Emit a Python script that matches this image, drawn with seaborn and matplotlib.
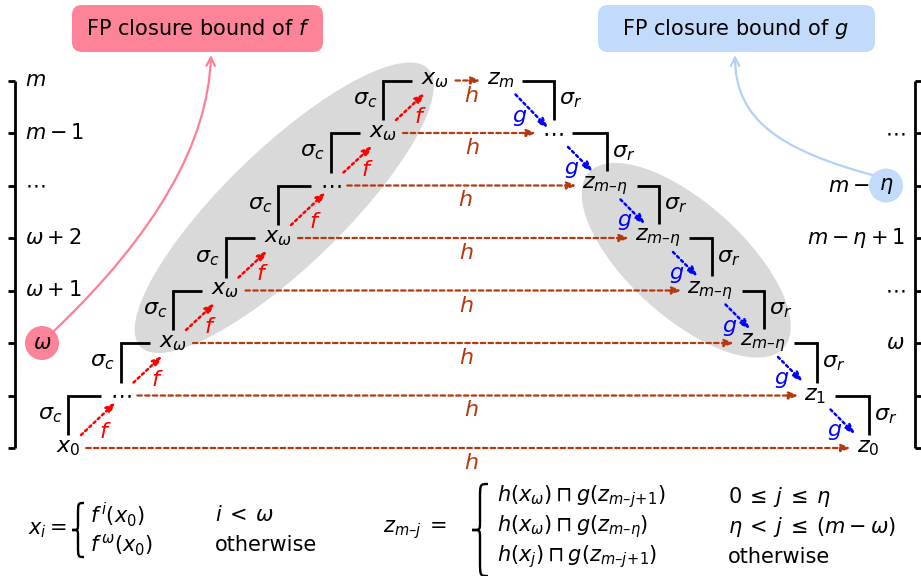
import matplotlib
matplotlib.use('Agg')

import matplotlib.pyplot as plt
from matplotlib.patches import Ellipse, FancyBboxPatch, FancyArrowPatch, Circle, PathPatch
from matplotlib.path import Path
import pandas as pd
import seaborn as sns

# lattice levels, bottom (0) to top (7)
levels = [0, 1, 2, 3, 4, 5, 6, 7]
DOTS = r"$\cdots$"

left_ticks = ["", "", r"$\omega$", r"$\omega+1$", r"$\omega+2$", DOTS, r"$m-1$", r"$m$"]
right_ticks = ["", "", r"$\omega$", DOTS, r"$m-\eta+1$", r"$m-$", DOTS, ""]
left_nodes = [r"$x_0$", DOTS, r"$x_\omega$", r"$x_\omega$", r"$x_\omega$", DOTS, r"$x_\omega$", r"$x_\omega$"]
right_nodes = [r"$z_0$", r"$z_1$", r"$z_{m–\eta}$", r"$z_{m–\eta}$", r"$z_{m–\eta}$",
               r"$z_{m–\eta}$", DOTS, r"$z_m$"]

f_level = 2   # omega: f reaches its fixpoint here
g_level = 5   # m - eta: g reaches its fixpoint here
left_group = [2, 3, 4, 5, 6, 7]
right_group = [2, 3, 4, 5]

x_cases = [(r"$f^{\,i}(x_0)$", r"$i\:<\:\omega$"),
           (r"$f^{\,\omega}(x_0)$", "otherwise")]
z_cases = [(r"$h(x_\omega) \sqcap g(z_{m–j\!+\!1})$", r"$0\:\leq\:j\:\leq\:\eta$"),
           (r"$h(x_\omega) \sqcap g(z_{m–\eta})$", r"$\eta\:<\:j\:\leq\:(m-\omega)$"),
           (r"$h(x_j) \sqcap g(z_{m–j\!+\!1})$", "otherwise")]

# colours
PINK = "#fd8398"
LIGHT_BLUE = "#c3dbfa"
GREY = "#d9d9d9"
H_COL = "#b5380e"
F_COL = "#ff0000"
G_COL = "#0000ff"

# layout (pixels, y downwards)
Y0, STEP = 448, 52.5
XL0, XR0 = 68, 868


def ly(k):
    return Y0 - STEP * k


def lx(k):
    return XL0 + STEP * k


def rx(k):
    return XR0 - STEP * k


sns.set_theme(style="white")
plt.rcParams['font.family'] = ['DejaVu Sans']
plt.rcParams['mathtext.fontset'] = 'dejavusans'
plt.rcParams['text.color'] = 'black'

fig = plt.figure(figsize=(9.21, 5.76), dpi=100)
ax = fig.add_axes([0, 0, 1, 1])

# grey groups (fixpoint regions)
lc = ((lx(left_group[0]) + lx(left_group[-1])) / 2 - 20, (ly(left_group[0]) + ly(left_group[-1])) / 2 - 4)
rc = ((rx(right_group[0]) + rx(right_group[-1])) / 2 + 2, (ly(right_group[0]) + ly(right_group[-1])) / 2 - 4)
ax.add_patch(Ellipse(lc, 400, 118, angle=-44, facecolor=GREY, lw=0, zorder=0))
ax.add_patch(Ellipse(rc, 262, 114, angle=42, facecolor=GREY, lw=0, zorder=0))

# node labels
L = [ax.text(lx(k), ly(k), left_nodes[k], ha='center', va='center', fontsize=16, zorder=3) for k in levels]
R = [ax.text(rx(k), ly(k), right_nodes[k], ha='center', va='center', fontsize=16, zorder=3) for k in levels]

ax.set_xlim(0, 921)
ax.set_ylim(576, 0)
ax.axis('off')

fig.canvas.draw()
renderer = fig.canvas.get_renderer()


def extent(t):
    bb = t.get_window_extent(renderer).transformed(ax.transData.inverted())
    return min(bb.x0, bb.x1), max(bb.x0, bb.x1), min(bb.y0, bb.y1), max(bb.y0, bb.y1)


# black lines: sigma stairs and the two level axes
rows = []
for k in levels[:-1]:
    _, _, top0, _ = extent(L[k])
    left1, _, _, _ = extent(L[k + 1])
    rows += [("c%d" % k, lx(k), top0 - 3), ("c%d" % k, lx(k), ly(k + 1)), ("c%d" % k, left1 - 9, ly(k + 1))]
    _, right1, _, _ = extent(R[k + 1])
    _, _, topr, _ = extent(R[k])
    rows += [("r%d" % k, right1 + 8, ly(k + 1)), ("r%d" % k, rx(k) + 1, ly(k + 1)), ("r%d" % k, rx(k) + 1, topr - 3)]
rows += [("axL", 15, ly(levels[0])), ("axL", 15, ly(levels[-1]))]
rows += [("axR", 915, ly(levels[0])), ("axR", 915, ly(levels[-1]))]
for k in levels:
    rows += [("tL%d" % k, 8, ly(k)), ("tL%d" % k, 15, ly(k))]
    rows += [("tR%d" % k, 915, ly(k)), ("tR%d" % k, 922, ly(k))]
lines = pd.DataFrame(rows, columns=["seg", "x", "y"])
sns.lineplot(data=lines, x="x", y="y", units="seg", estimator=None, sort=False,
             color="black", lw=2, ax=ax, solid_joinstyle='miter', solid_capstyle='butt')

ax.set_xlim(0, 921)
ax.set_ylim(576, 0)
ax.axis('off')


def arrow(start, end, color, ls, lw=1.8):
    ax.annotate("", xy=end, xytext=start, zorder=2,
                arrowprops=dict(arrowstyle="-|>,head_length=0.55,head_width=0.22", color=color,
                                lw=lw, linestyle=ls, shrinkA=0, shrinkB=0, mutation_scale=10))


dotted = (0, (1, 1.3))
for k in levels[:-1]:
    # f steps on the left
    end = (lx(k + 1) - 5, ly(k + 1) + 7) if left_nodes[k + 1] == DOTS else (lx(k + 1) - 11, ly(k + 1) + 13)
    arrow((lx(k) + 13, ly(k) - 13), end, F_COL, dotted)
    ax.text(lx(k) + 37, ly(k) - 16, r"$f$", color=F_COL, fontsize=16, ha='center', va='center')
    ax.text(lx(k) - 18, ly(k) - 33, r"$\sigma_c$", fontsize=16, ha='center', va='center')
    # g steps on the right
    end = (rx(k) - 5, ly(k) - 5) if right_nodes[k] == DOTS else (rx(k) - 13, ly(k) - 14)
    arrow((rx(k + 1) + 15, ly(k + 1) + 14), end, G_COL, dotted)
    ax.text(rx(k + 1) + 19, ly(k + 1) + 37, r"$g$", color=G_COL, fontsize=16, ha='center', va='center')
    ax.text(rx(k) + 6, ly(k + 1) + 20, r"$\sigma_r$", fontsize=16, ha='left', va='center')

# h arrows across
for k in levels:
    _, right0, _, _ = extent(L[k])
    left0, _, _, _ = extent(R[k])
    arrow((right0 + 6, ly(k)), (left0 - 6, ly(k)), H_COL, (0, (2, 1.5)), lw=1.6)
    ax.text((right0 + left0) / 2 + 3, ly(k) + 15, r"$h$", color=H_COL, fontsize=16, ha='center', va='center')

# axis labels
for k in levels:
    if left_ticks[k] and k != f_level:
        ax.text(25, ly(k), left_ticks[k], ha='left', va='center', fontsize=15)
    if right_ticks[k]:
        xr = 870 if k == g_level else 905
        ax.text(xr, ly(k), right_ticks[k], ha='right', va='center', fontsize=15)

ax.add_patch(Circle((42, ly(f_level)), 17, facecolor=PINK, lw=0, zorder=2))
ax.text(42, ly(f_level), left_ticks[f_level], ha='center', va='center', fontsize=15, zorder=3)
ax.add_patch(Circle((886, ly(g_level)), 17, facecolor=LIGHT_BLUE, lw=0, zorder=2))
ax.text(886, ly(g_level), r"$\eta$", ha='center', va='center', fontsize=15, zorder=3)

# callout boxes
ax.add_patch(FancyBboxPatch((72, 5), 251, 47, boxstyle="round,pad=0,rounding_size=10",
                            facecolor=PINK, lw=0, zorder=2))
ax.text(198, 29, r"FP closure bound of $f$", ha='center', va='center', fontsize=15, zorder=3)
ax.add_patch(FancyBboxPatch((598, 5), 277, 47, boxstyle="round,pad=0,rounding_size=10",
                            facecolor=LIGHT_BLUE, lw=0, zorder=2))
ax.text(736, 29, r"FP closure bound of $g$", ha='center', va='center', fontsize=15, zorder=3)

pink_path = Path([(54, ly(f_level) - 12), (207, 185), (211, 55)],
                 [Path.MOVETO, Path.CURVE3, Path.CURVE3])
ax.add_patch(FancyArrowPatch(path=pink_path, arrowstyle="->,head_length=0.5,head_width=0.25",
                             mutation_scale=12, color="#ff7f95", lw=1.6, transform=ax.transData))
blue_path = Path([(874, ly(g_level) - 10), (780, 150), (735, 120), (735, 55)],
                 [Path.MOVETO, Path.CURVE4, Path.CURVE4, Path.CURVE4])
ax.add_patch(FancyArrowPatch(path=blue_path, arrowstyle="->,head_length=0.5,head_width=0.25",
                             mutation_scale=12, color="#b3d0f5", lw=1.6, transform=ax.transData))


# definitions below
def brace(x, top, bottom, w):
    mid = (top + bottom) / 2
    xm = x + w / 2
    verts = [(x + w, top), (xm, top), (xm, top), (xm, top + w), (xm, mid - w / 2),
             (xm, mid), (xm, mid), (x, mid), (xm, mid), (xm, mid), (xm, mid + w / 2),
             (xm, bottom - w), (xm, bottom), (xm, bottom), (x + w, bottom)]
    C, Lt = Path.CURVE4, Path.LINETO
    codes = [Path.MOVETO, C, C, C, Lt, C, C, C, C, C, C, Lt, C, C, C]
    ax.add_patch(PathPatch(Path(verts, codes), fill=False, lw=1.7, color='black'))


ax.text(28, 530, r"$x_i =$", ha='left', va='center', fontsize=15)
brace(72, 503, 557, 12)
for i, (expr, cond) in enumerate(x_cases):
    ax.text(90, 515 + 30 * i, expr, ha='left', va='center', fontsize=15)
    ax.text(215, 515 + 30 * i, cond, ha='left', va='center', fontsize=15)

ax.text(383, 530, r"$z_{m–j}\;=$", ha='left', va='center', fontsize=15)
brace(472, 484, 576, 16)
for i, (expr, cond) in enumerate(z_cases):
    ax.text(497, 497 + 30 * i, expr, ha='left', va='center', fontsize=15)
    ax.text(728, 497 + 30 * i, cond, ha='left', va='center', fontsize=15)

fig.savefig('out.png', dpi=100)
plt.close(fig)
